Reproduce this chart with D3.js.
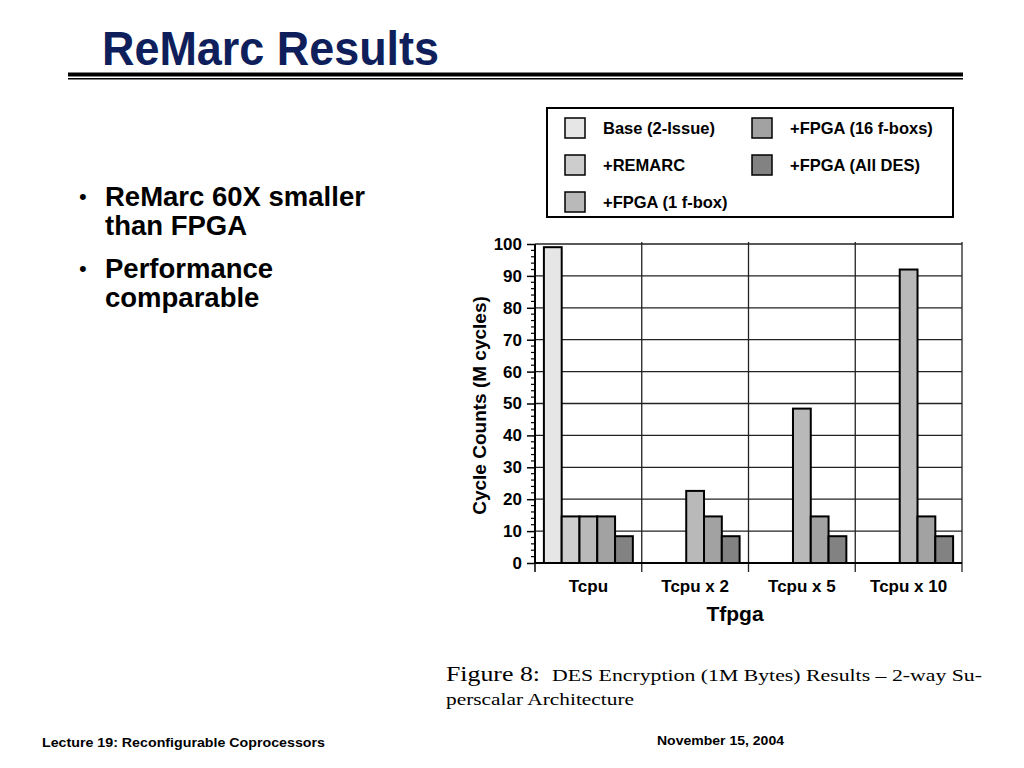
<!DOCTYPE html>
<html>
<head>
<meta charset="utf-8">
<script src="https://cdnjs.cloudflare.com/ajax/libs/d3/7.8.5/d3.min.js"></script>
<style>
  html, body { margin: 0; padding: 0; background: #fff; }
  svg { display: block; }
</style>
</head>
<body>
<svg id="chart" width="1024" height="768"></svg>
<script>
// ---- data ----
const categories = ["Tcpu", "Tcpu x 2", "Tcpu x 5", "Tcpu x 10"];
const seriesNames = ["Base (2-Issue)", "+REMARC", "+FPGA (1 f-box)", "+FPGA (16 f-boxs)", "+FPGA (All DES)"];
const baseValues    = [99, null, null, null];
const remarcValues  = [14.6, null, null, null];
const fpga1Values   = [14.6, 22.6, 48.4, 92];
const fpga16Values  = [14.6, 14.6, 14.6, 14.6];
const allDesValues  = [8.4, 8.4, 8.4, 8.4];
const yTicks = [0, 10, 20, 30, 40, 50, 60, 70, 80, 90, 100];
const bulletLines = [["ReMarc 60X smaller", "than FPGA"], ["Performance", "comparable"]];

const seriesValues = [baseValues, remarcValues, fpga1Values, fpga16Values, allDesValues];
const colors = ["#e6e6e6", "#cdcdcd", "#b9b9b9", "#a2a2a2", "#828282"];

const svg = d3.select("#chart");
const sans = "'Liberation Sans', Arial, Helvetica, sans-serif";

// ---- slide title ----
svg.append("text")
  .attr("x", 102).attr("y", 65)
  .attr("font-family", "'Liberation Sans Narrow', 'Liberation Sans', Arial, sans-serif")
  .attr("font-weight", "bold").attr("font-size", 49)
  .attr("fill", "#0f1f5c")
  .attr("textLength", 337).attr("lengthAdjust", "spacingAndGlyphs")
  .text("ReMarc Results");
svg.append("rect").attr("x", 68).attr("y", 72.5).attr("width", 895).attr("height", 4).attr("fill", "#000");
svg.append("rect").attr("x", 68).attr("y", 78).attr("width", 895).attr("height", 1.5).attr("fill", "#000");

// ---- bullets ----
let by = 206;
bulletLines.forEach((lines, bi) => {
  svg.append("text").attr("x", 79).attr("y", by - 2)
    .attr("font-family", sans).attr("font-size", 22).attr("fill", "#000").text("•");
  lines.forEach((ln, li) => {
    svg.append("text").attr("x", 105).attr("y", by + li * 29)
      .attr("font-family", sans).attr("font-weight", "bold").attr("font-size", 27.5)
      .attr("fill", "#000").text(ln);
  });
  by += 72;
});

// ---- chart ----
const pL = 535, pR = 962, pT = 244, pB = 563;
const x = d3.scaleBand().domain(categories).range([pL, pR]).padding(0);
const xs = d3.scaleBand().domain(seriesNames).range([0, x.bandwidth()]).paddingInner(0).paddingOuter(0.5);
const y = d3.scaleLinear().domain([0, 100]).range([pB, pT]);

// horizontal gridlines
svg.append("g").selectAll("line").data(yTicks.filter(t => t > 0)).join("line")
  .attr("x1", pL).attr("x2", pR)
  .attr("y1", d => y(d)).attr("y2", d => y(d))
  .attr("stroke", "#222").attr("stroke-width", 1.3);

// vertical category separators + right border
const seps = categories.slice(1).map(c => x(c)).concat([pR]);
svg.append("g").selectAll("line").data(seps).join("line")
  .attr("x1", d => d).attr("x2", d => d)
  .attr("y1", pT - 2).attr("y2", pB + 9)
  .attr("stroke", "#222").attr("stroke-width", 1.3);

// bars
const barData = [];
categories.forEach((c, ci) => {
  seriesNames.forEach((s, si) => {
    const v = seriesValues[si][ci];
    if (v != null) barData.push({ c, s, si, v });
  });
});
svg.append("g").selectAll("rect").data(barData).join("rect")
  .attr("x", d => x(d.c) + xs(d.s))
  .attr("y", d => y(d.v))
  .attr("width", xs.bandwidth())
  .attr("height", d => y(0) - y(d.v))
  .attr("fill", d => colors[d.si])
  .attr("stroke", "#000").attr("stroke-width", 2);

// y axis
const yAxis = d3.axisLeft(y).tickValues(yTicks).tickSize(8).tickPadding(5).tickFormat(d3.format("d"));
const gy = svg.append("g").attr("transform", `translate(${pL},0)`).call(yAxis);
gy.select(".domain").attr("stroke", "#000").attr("stroke-width", 2).attr("d", `M0,${pT}V${pB}`);
gy.selectAll(".tick line").attr("stroke", "#000").attr("stroke-width", 1.5);
gy.selectAll(".tick text").attr("font-family", sans).attr("font-weight", "bold")
  .attr("font-size", 17).attr("fill", "#000");
// minor ticks
const minor = d3.range(0, 101, 2).filter(v => v % 10 !== 0);
svg.append("g").selectAll("line").data(minor).join("line")
  .attr("x1", pL - 4).attr("x2", pL)
  .attr("y1", d => y(d)).attr("y2", d => y(d))
  .attr("stroke", "#000").attr("stroke-width", 1.2);

// x axis
const gx = svg.append("g").attr("transform", `translate(0,${pB})`)
  .call(d3.axisBottom(x).tickSize(0).tickPadding(17));
gx.select(".domain").attr("stroke", "#000").attr("stroke-width", 2).attr("d", `M${pL},0H${pR}`);
gx.selectAll(".tick text").attr("font-family", sans).attr("font-weight", "bold")
  .attr("font-size", 17).attr("fill", "#000");
svg.append("line").attr("x1", pL).attr("x2", pL).attr("y1", pB).attr("y2", pB + 9)
  .attr("stroke", "#000").attr("stroke-width", 1.5);

// axis titles
svg.append("text").attr("transform", `translate(486,${(pT + pB) / 2 + 2}) rotate(-90)`)
  .attr("text-anchor", "middle").attr("font-family", sans).attr("font-weight", "bold")
  .attr("font-size", 19).attr("fill", "#000").text("Cycle Counts (M cycles)");
svg.append("text").attr("x", 735).attr("y", 621)
  .attr("text-anchor", "middle").attr("font-family", sans).attr("font-weight", "bold")
  .attr("font-size", 21).attr("fill", "#000").text("Tfpga");

// legend
svg.append("rect").attr("x", 547).attr("y", 108).attr("width", 406).attr("height", 109)
  .attr("fill", "#fff").attr("stroke", "#000").attr("stroke-width", 2);
const legPos = [[565, 128], [565, 165], [565, 202], [752, 128], [752, 165]];
const lg = svg.append("g").selectAll("g").data(seriesNames).join("g")
  .attr("transform", (d, i) => `translate(${legPos[i][0]},${legPos[i][1]})`);
lg.append("rect").attr("x", 0).attr("y", -10).attr("width", 20).attr("height", 20)
  .attr("fill", (d, i) => colors[i]).attr("stroke", "#000").attr("stroke-width", 1.5);
lg.append("text").attr("x", 38).attr("y", 6)
  .attr("font-family", sans).attr("font-weight", "bold").attr("font-size", 16.5)
  .attr("fill", "#000").text(d => d);

// caption
const serif = "'Liberation Serif', 'DejaVu Serif', 'Times New Roman', serif";
svg.append("text").attr("x", 446).attr("y", 681)
  .attr("font-family", serif).attr("font-size", 20).attr("fill", "#000")
  .attr("textLength", 94).attr("lengthAdjust", "spacingAndGlyphs").text("Figure 8:");
svg.append("text").attr("x", 552).attr("y", 681)
  .attr("font-family", serif).attr("font-size", 16.5).attr("fill", "#000")
  .attr("textLength", 430).attr("lengthAdjust", "spacingAndGlyphs")
  .text("DES Encryption (1M Bytes) Results \u2013 2-way Su-");
svg.append("text").attr("x", 446).attr("y", 705)
  .attr("font-family", serif).attr("font-size", 16.5).attr("fill", "#000")
  .attr("textLength", 188).attr("lengthAdjust", "spacingAndGlyphs")
  .text("perscalar Architecture");

// footer
svg.append("text").attr("x", 42).attr("y", 747)
  .attr("font-family", sans).attr("font-weight", "bold").attr("font-size", 13)
  .attr("fill", "#000").attr("textLength", 283).attr("lengthAdjust", "spacingAndGlyphs")
  .text("Lecture 19: Reconfigurable Coprocessors");
svg.append("text").attr("x", 657).attr("y", 745)
  .attr("font-family", sans).attr("font-weight", "bold").attr("font-size", 13)
  .attr("fill", "#000").attr("textLength", 127).attr("lengthAdjust", "spacingAndGlyphs")
  .text("November 15, 2004");
</script>
</body>
</html>
